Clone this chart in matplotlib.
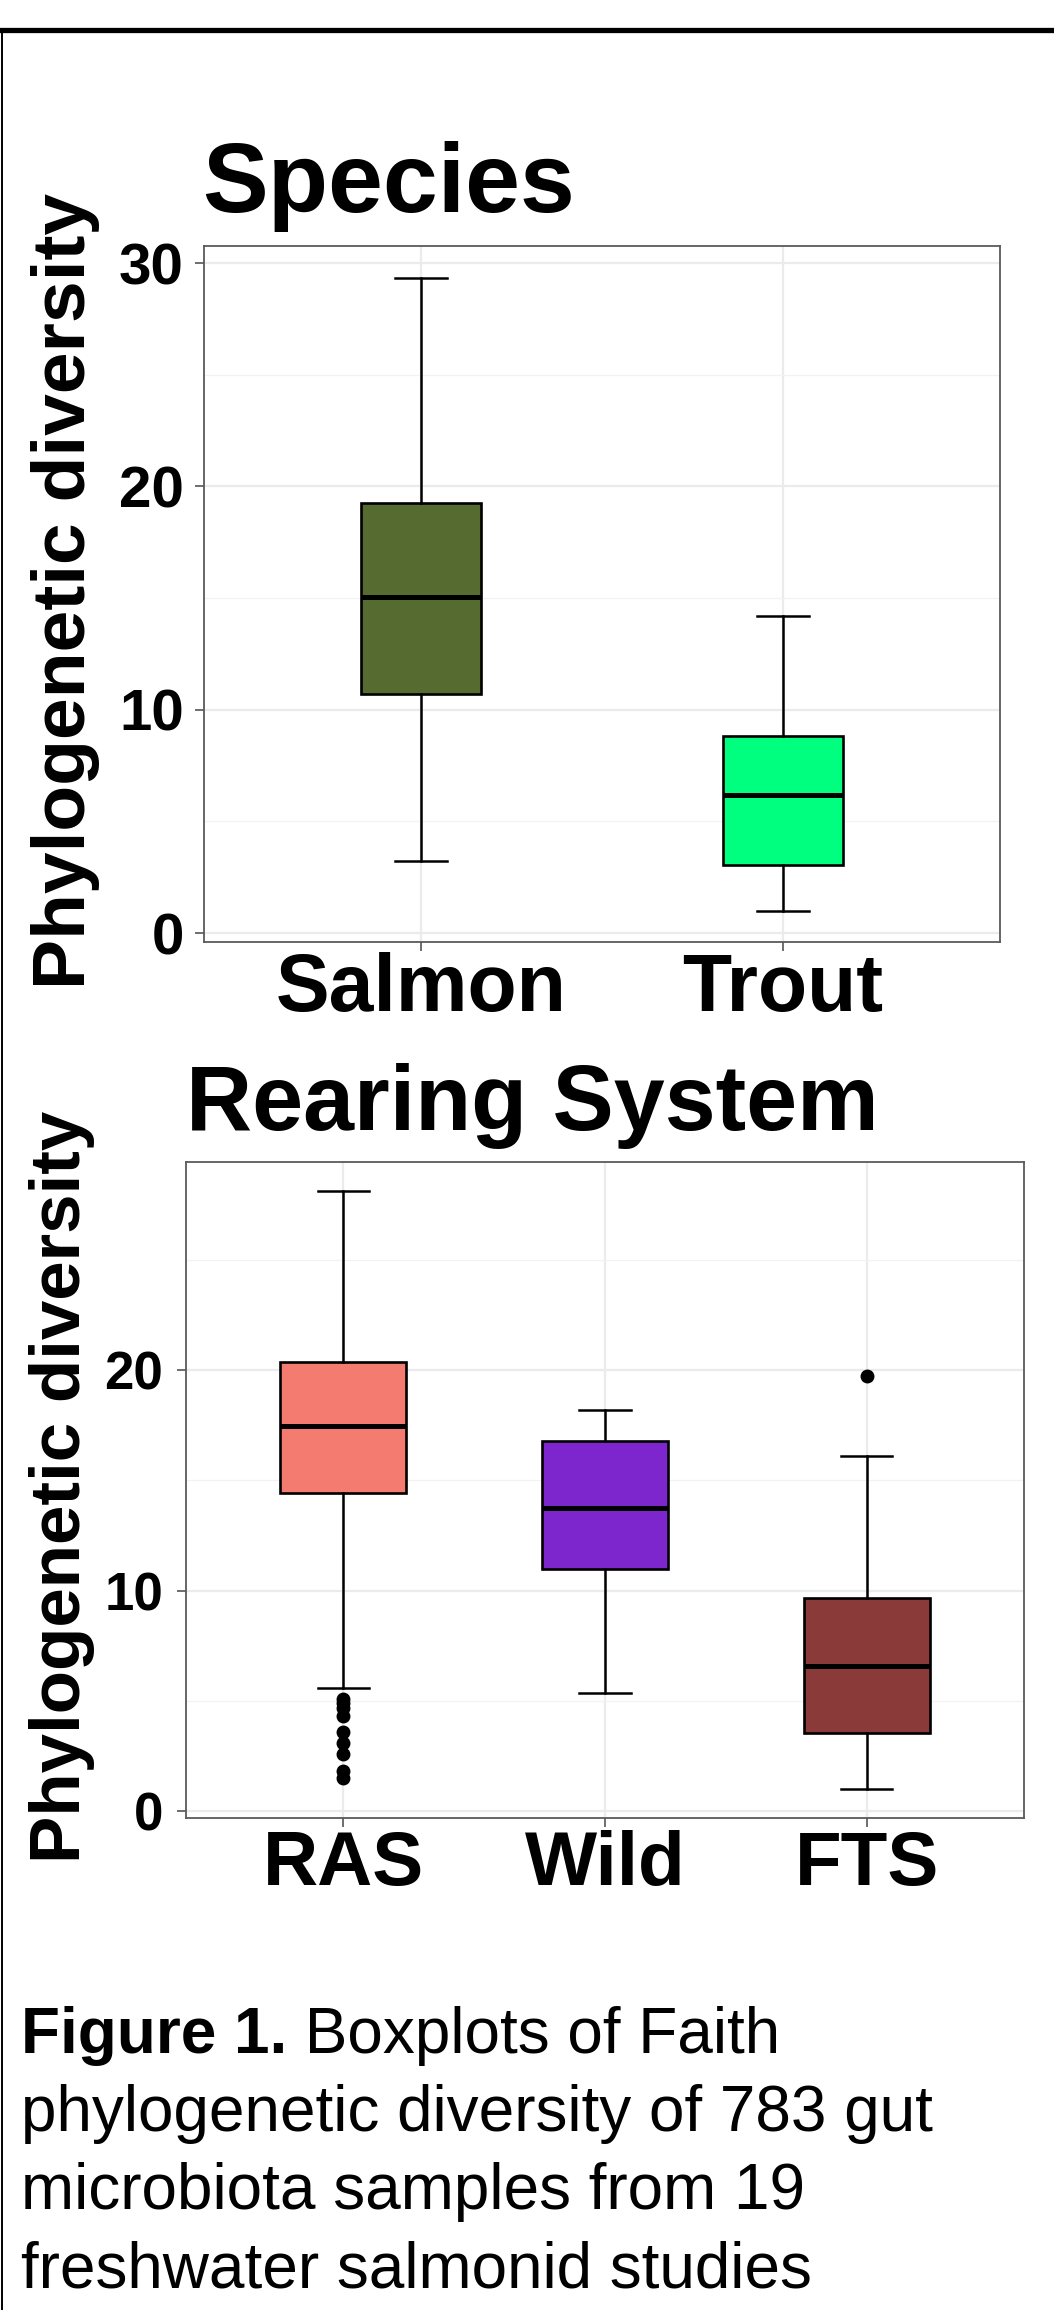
import matplotlib
matplotlib.use('Agg')
import matplotlib.pyplot as plt
from matplotlib.lines import Line2D

plt.rcParams['font.family'] = ['Liberation Sans', 'DejaVu Sans']

# species panel
species = ['Salmon', 'Trout']
species_lo = [3.24, 1.0]
species_q1 = [10.7, 3.05]
species_med = [15.07, 6.18]
species_q3 = [19.28, 8.84]
species_hi = [29.34, 14.2]
species_out = [[], []]
species_colors = ['#556B2F', '#00FF7F']

# rearing system panel
rearing = ['RAS', 'Wild', 'FTS']
rearing_lo = [5.6, 5.36, 1.01]
rearing_q1 = [14.42, 10.97, 3.54]
rearing_med = [17.49, 13.73, 6.59]
rearing_q3 = [20.37, 16.8, 9.67]
rearing_hi = [28.12, 18.2, 16.09]
rearing_out = [[5.1, 4.9, 4.65, 4.3, 3.6, 3.1, 2.6, 1.8, 1.5], [], [19.75]]
rearing_colors = ['#F47B70', '#7D26CD', '#8B3A3A']

caption_bold = 'Figure 1.'
caption_lines = [' Boxplots of Faith',
                 'phylogenetic diversity of 783 gut',
                 'microbiota samples from 19',
                 'freshwater salmonid studies']

W, H = 1054, 2310
fig = plt.figure(figsize=(W / 100, H / 100), dpi=100)


def fx(px):
    return px / W


def fy(py):
    return 1 - py / H


def draw_panel(box, names, lo, q1, med, q3, hi, out, colors, width, capw,
               ylim, yticks, tick_fs, xlab_fs, ytick_pad, xtick_pad):
    """ one ggplot-like boxplot panel, box = (left, top, right, bottom) in px """
    l, t, r, b = box
    ax = fig.add_axes([fx(l), fy(b), (r - l) / W, (b - t) / H])
    stats = []
    for i, name in enumerate(names):
        stats.append(dict(label=name, whislo=lo[i], q1=q1[i], med=med[i],
                          q3=q3[i], whishi=hi[i], fliers=out[i]))
    pos = list(range(1, len(names) + 1))
    res = ax.bxp(stats, positions=pos, widths=width, capwidths=capw,
                 patch_artist=True, showfliers=True,
                 boxprops=dict(linewidth=1.9, edgecolor='black'),
                 medianprops=dict(color='black', linewidth=3.6),
                 whiskerprops=dict(color='black', linewidth=1.8),
                 capprops=dict(color='black', linewidth=1.8),
                 flierprops=dict(marker='o', markerfacecolor='black',
                                 markeredgecolor='black', markersize=9,
                                 linestyle='none'))
    for patch, c in zip(res['boxes'], colors):
        patch.set_facecolor(c)

    ax.set_xlim(0.4, len(names) + 0.6)
    ax.set_ylim(*ylim)
    ax.set_yticks(yticks)
    ax.set_yticks([5, 15, 25], minor=True)
    ax.set_xticks(pos)
    ax.set_xticklabels(names, fontsize=xlab_fs, fontweight='bold')
    ax.set_yticklabels([str(v) for v in yticks], fontsize=tick_fs,
                       fontweight='bold')
    ax.grid(which='major', color='#EBEBEB', linewidth=1.6)
    ax.grid(which='minor', axis='y', color='#F2F2F2', linewidth=0.9)
    ax.set_axisbelow(True)
    ax.tick_params(which='major', length=6.5, width=1.2, color='#555555')
    ax.tick_params(axis='y', pad=ytick_pad)
    ax.tick_params(axis='x', pad=xtick_pad)
    ax.tick_params(which='minor', length=0)
    for sp in ax.spines.values():
        sp.set_color('#5a5a5a')
        sp.set_linewidth(1.3)
    return ax


ax1 = draw_panel((204, 246, 1000, 942), species, species_lo, species_q1,
                 species_med, species_q3, species_hi, species_out,
                 species_colors, 0.33, 0.145, (-0.4, 30.77), [0, 10, 20, 30],
                 42, 58, 8, 1)
ax2 = draw_panel((186, 1162, 1024, 1818), rearing, rearing_lo, rearing_q1,
                 rearing_med, rearing_q3, rearing_hi, rearing_out,
                 rearing_colors, 0.48, 0.195, (-0.32, 29.45), [0, 10, 20],
                 38, 55, 10, 2)

# titles and y labels
fig.text(fx(202), fy(212), 'Species', fontsize=71, fontweight='bold',
         va='baseline', ha='left')
fig.text(fx(186), fy(1130), 'Rearing System', fontsize=66, fontweight='bold',
         va='baseline', ha='left')
fig.text(fx(66), fy(591), 'Phylogenetic diversity', fontsize=54,
         fontweight='bold', rotation=90, ha='center', va='center')
fig.text(fx(62), fy(1487), 'Phylogenetic diversity', fontsize=51,
         fontweight='bold', rotation=90, ha='center', va='center')

# caption
renderer = fig.canvas.get_renderer()
t = fig.text(fx(21), fy(2053), caption_bold, fontsize=46, fontweight='bold',
             va='baseline', ha='left')
bb = t.get_window_extent(renderer)
fig.text(bb.x1 / W, fy(2053), caption_lines[0], fontsize=46,
         va='baseline', ha='left')
for i, line in enumerate(caption_lines[1:]):
    fig.text(fx(21), fy(2131 + 78 * i), line, fontsize=46,
             va='baseline', ha='left')

# page frame
fig.add_artist(Line2D([0, 1], [fy(30), fy(30)], color='black', linewidth=3.8))
fig.add_artist(Line2D([fx(1.5), fx(1.5)], [fy(30), 0], color='black',
                      linewidth=1.4))

fig.savefig('out.png', dpi=100)
